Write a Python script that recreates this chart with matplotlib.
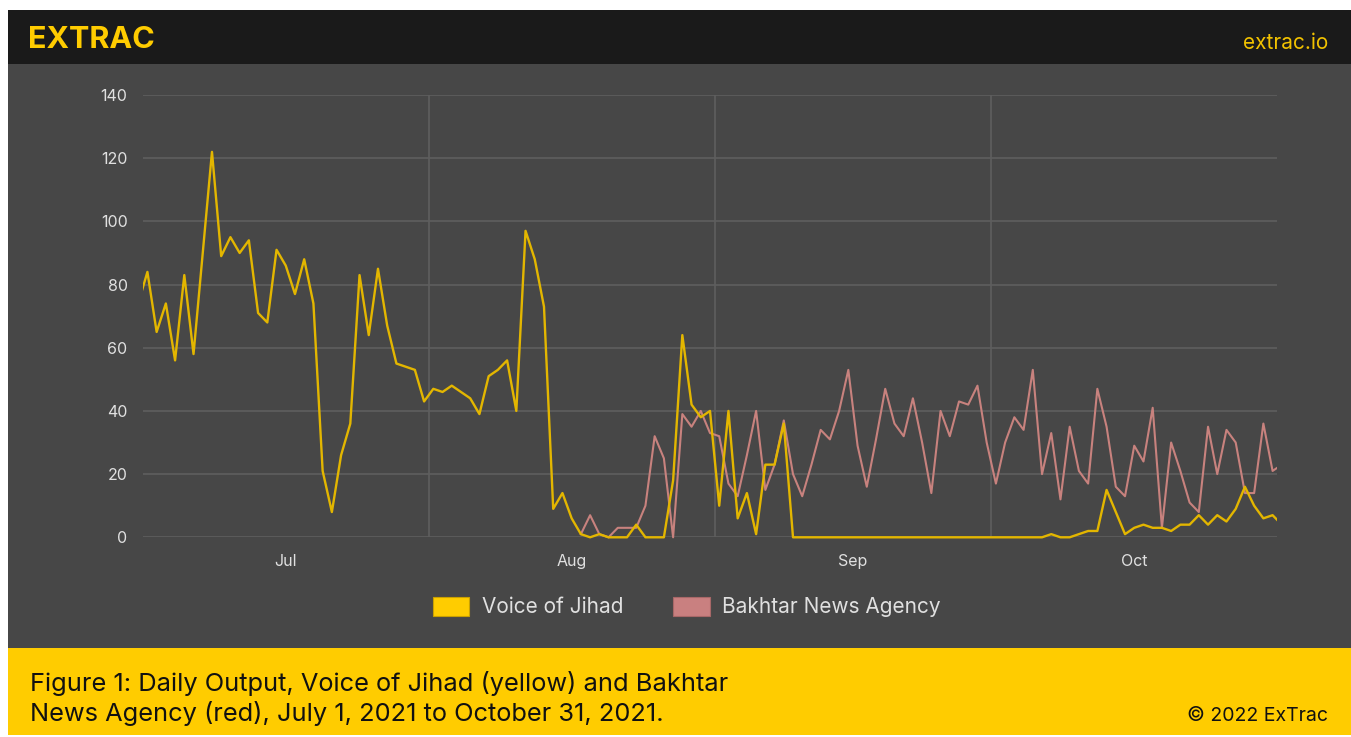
"""Daily output chart: Voice of Jihad vs Bakhtar News Agency (ExTrac style)."""

import matplotlib.pyplot as plt
import numpy as np
import pandas as pd
from matplotlib.patches import Patch, Rectangle

W, H = 1351, 737

# daily posts, Jun 30 .. Nov 1 2021 (the two end days are cut by the axis)
voj_jun30 = [74]
voj_jul = [84, 65, 74, 56, 83, 58, 90, 122, 89, 95, 90, 94, 71, 68, 91, 86,
           77, 88, 74, 21, 8, 26, 36, 83, 64, 85, 67, 55, 54, 53, 43]
voj_aug = [47, 46, 48, 46, 44, 39, 51, 53, 56, 40, 97, 88, 73, 9, 14, 6,
           1, 0, 1, 0, 0, 0, 4, 0, 0, 0, 18, 64, 42, 38, 40]
voj_sep = [10, 40, 6, 14, 1, 23, 23, 36, 0, 0, 0, 0, 0, 0, 0, 0,
           0, 0, 0, 0, 0, 0, 0, 0, 0, 0, 0, 0, 0, 0]
voj_oct = [0, 0, 0, 0, 0, 0, 1, 0, 0, 1, 2, 2, 15, 8, 1, 3,
           4, 3, 3, 2, 4, 4, 7, 4, 7, 5, 9, 16, 10, 6, 7]
voj_nov1 = [4]

# Bakhtar only has data from Aug 17
bna_aug = [1, 7, 1, 0, 3, 3, 3, 10, 32, 25, 0, 39, 35, 40, 33]
bna_sep = [32, 17, 13, 26, 40, 15, 23, 37, 20, 13, 23, 34, 31, 40, 53, 29,
           16, 31, 47, 36, 32, 44, 30, 14, 40, 32, 43, 42, 48, 30]
bna_oct = [17, 30, 38, 34, 53, 20, 33, 12, 35, 21, 17, 47, 35, 16, 13, 29,
           24, 41, 3, 30, 21, 11, 8, 35, 20, 34, 30, 14, 14, 36, 21]
bna_nov1 = [23]

series_names = ["Voice of Jihad", "Bakhtar News Agency"]
month_labels = ["Jul", "Aug", "Sep", "Oct"]
y_ticks = [0, 20, 40, 60, 80, 100, 120, 140]

YELLOW = "#FFCC00"
LINE_YELLOW = "#E3B600"
LINE_RED = "#C8827E"
PANEL = "#474747"
HEADER = "#1A1A1A"
GRID = "#5E5E5E"
TICK = "#E0E0E0"

plt.rcParams["font.family"] = ["Inter", "DejaVu Sans"]

start = pd.Timestamp("2021-07-01")
dates = pd.date_range("2021-06-30", "2021-11-01", freq="D")
days = (dates - start).days.to_numpy()
voj = np.array(voj_jun30 + voj_jul + voj_aug + voj_sep + voj_oct + voj_nov1, float)
bna_dates = pd.date_range("2021-08-17", "2021-11-01", freq="D")
bna_days = (bna_dates - start).days.to_numpy()
bna = np.array(bna_aug + bna_sep + bna_oct + bna_nov1, float)

month_starts = pd.date_range("2021-07-01", "2021-11-01", freq="MS")
bounds = (month_starts - start).days.to_numpy() - 0.5
centers = (bounds[:-1] + bounds[1:]) / 2


def px_rect(x0, y0, x1, y1, color):
    """Rectangle given in pixel coordinates from the top-left corner."""
    return Rectangle((x0 / W, 1 - y1 / H), (x1 - x0) / W, (y1 - y0) / H,
                     transform=fig.transFigure, color=color, lw=0, zorder=0)


fig = plt.figure(figsize=(W / 100, H / 100), dpi=100, facecolor="white")
fig.add_artist(px_rect(8, 10, W, 64, HEADER))
fig.add_artist(px_rect(8, 64, W, 648, PANEL))
fig.add_artist(px_rect(8, 648, W, 735, YELLOW))

ax = fig.add_axes([142.8 / W, 1 - 537.3 / H, (1277.2 - 142.8) / W, (537.3 - 95) / H])
ax.set_facecolor("none")
for s in ax.spines.values():
    s.set_visible(False)

ax.set_xlim(bounds[0], bounds[-1])
ax.set_ylim(0, 140)
ax.set_yticks(y_ticks)
ax.set_xticks(centers, month_labels)
ax.tick_params(length=0, colors=TICK, labelsize=11.5)
ax.tick_params(axis="y", pad=11)
ax.tick_params(axis="x", pad=12)
ax.grid(axis="y", color=GRID, lw=1.2)
ax.set_axisbelow(True)
for b in bounds[1:-1]:
    ax.axvline(b, color=GRID, lw=1.2, zorder=0.5)

clip = Rectangle((bounds[0], -4), bounds[-1] - bounds[0], 150, transform=ax.transData)
l_red, = ax.plot(bna_days, bna, color=LINE_RED, lw=1.5, zorder=2)
l_yel, = ax.plot(days, voj, color=LINE_YELLOW, lw=1.7, zorder=3)
for ln in (l_red, l_yel):
    ln.set_clip_path(clip)

handles = [Patch(facecolor=YELLOW, edgecolor="#C9A000", lw=0.8),
           Patch(facecolor="#C98080", edgecolor="#A86868", lw=0.8)]
leg = fig.legend(handles, series_names, loc="center", bbox_to_anchor=(687 / W, 1 - 607 / H),
                 ncol=2, frameon=False, fontsize=15, handlelength=1.75, handleheight=1.05,
                 handletextpad=0.6, columnspacing=2.4)
for t in leg.get_texts():
    t.set_color(TICK)

fig.text(28 / W, 1 - 40 / H, "EXTRAC", color=YELLOW, fontsize=22, fontweight="bold",
         ha="left", va="center")
fig.text(1328 / W, 1 - 43 / H, "extrac.io", color="#F2C200", fontsize=15,
         ha="right", va="center")

fig.text(30 / W, 1 - 683 / H, "Figure 1: Daily Output, Voice of Jihad (yellow) and Bakhtar",
         color="#111111", fontsize=18.3, ha="left", va="center")
fig.text(30 / W, 1 - 714 / H, "News Agency (red), July 1, 2021 to October 31, 2021.",
         color="#111111", fontsize=18.3, ha="left", va="center")
fig.text(1328 / W, 1 - 716 / H, "© 2022 ExTrac", color="#111111", fontsize=14,
         ha="right", va="center")

fig.savefig("out.png", dpi=100, facecolor="white")
